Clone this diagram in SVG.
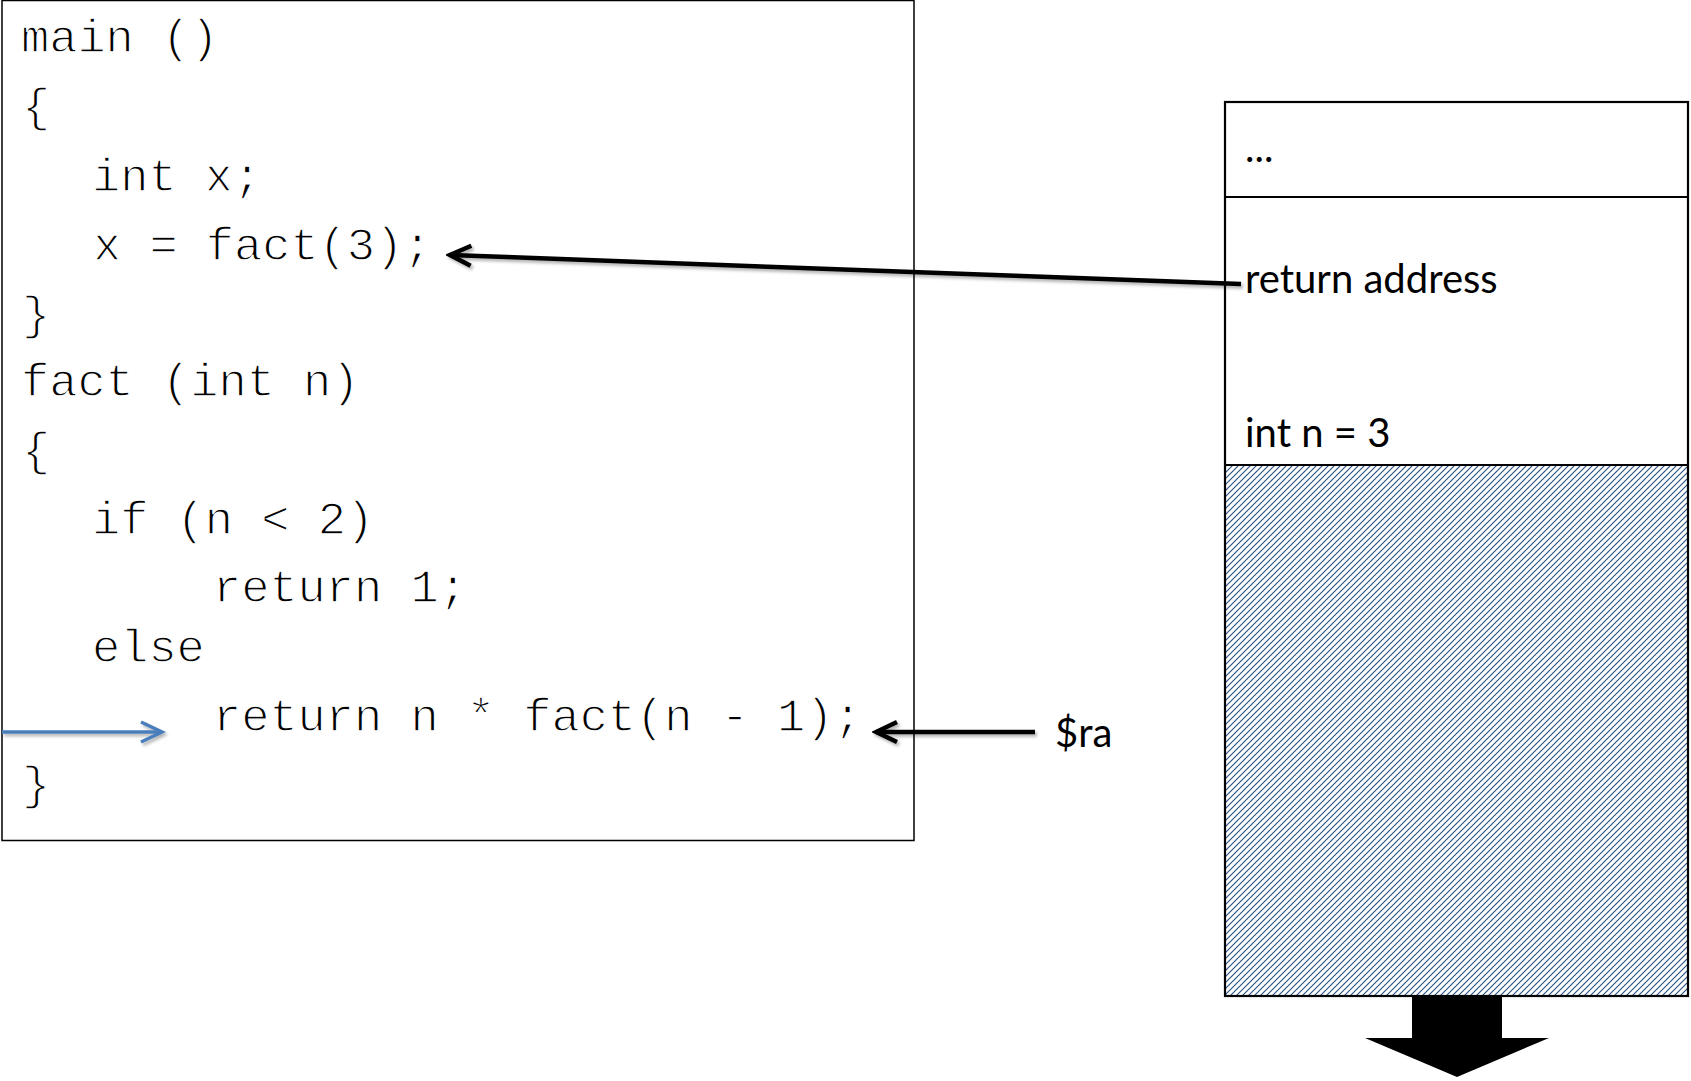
<svg xmlns="http://www.w3.org/2000/svg" width="1691" height="1081" viewBox="0 0 1691 1081">
<style>
.code{font-family:"Liberation Mono","Courier New",monospace;font-size:47px;fill:#000;stroke:#fff;stroke-width:1.3}
.lbl{font-family:Lato,"Open Sans",sans-serif;font-size:40px;fill:#000}
.box{fill:#fff;stroke:#000;stroke-width:1.5}
.stk{fill:none;stroke:#000;stroke-width:2.2}
.conn{fill:none;stroke:#000;stroke-width:4.5}
.blue{fill:none;stroke:#4A7EBB;stroke-width:3.5}
</style>
<defs>
<pattern id="hatch" patternUnits="userSpaceOnUse" width="6" height="6">
<rect width="6" height="6" fill="#fff"/>
<path d="M-1,7 L7,-1 M-4,4 L4,-4 M2,10 L10,2" stroke="#24507F" stroke-width="1.1"/>
</pattern>
<marker id="ah" markerUnits="userSpaceOnUse" markerWidth="30" markerHeight="30" viewBox="-26 -15 30 30" refX="0" refY="0" orient="auto">
<path d="M-21,-10 L0,0 L-21,10" fill="none" stroke="#000" stroke-width="4.5"/>
</marker>
<marker id="ahb" markerUnits="userSpaceOnUse" markerWidth="30" markerHeight="30" viewBox="-26 -15 30 30" refX="0" refY="0" orient="auto">
<path d="M-21,-10 L0,0 L-21,10" fill="none" stroke="#4A7EBB" stroke-width="3.5"/>
</marker>
<filter id="sh" filterUnits="userSpaceOnUse" x="0" y="0" width="1691" height="1081">
<feDropShadow dx="2" dy="2.5" stdDeviation="1.5" flood-color="#000" flood-opacity="0.3"/>
</filter>
</defs>

<g id="code-box">
<rect class="box" x="2" y="0.5" width="912" height="840"/>
<text class="code" x="21" y="52">main ()</text>
<text class="code" x="22" y="121">{</text>
<text class="code" x="92" y="191">int x;</text>
<text class="code" x="93" y="260">x = fact(3);</text>
<text class="code" x="22" y="329">}</text>
<text class="code" x="21" y="396">fact (int n)</text>
<text class="code" x="22" y="465">{</text>
<text class="code" x="92" y="534">if (n &lt; 2)</text>
<text class="code" x="213" y="602">return 1;</text>
<text class="code" x="92" y="662">else</text>
<text class="code" x="213" y="731">return n * fact(n - 1);</text>
<text class="code" x="22" y="799">}</text>
</g>

<g id="stack">
<rect x="1225" y="465" width="463" height="531" fill="url(#hatch)"/>
<rect class="stk" x="1225" y="102" width="463" height="894"/>
<line class="stk" x1="1225" y1="197" x2="1688" y2="197"/>
<line class="stk" x1="1225" y1="465" x2="1688" y2="465"/>
<text class="lbl" x="1245" y="162">...</text>
<text class="lbl" x="1245" y="293">return address</text>
<text class="lbl" x="1245" y="447">int n = 3</text>
</g>

<g id="grow-arrow">
<path d="M1412,997 L1502,997 L1502,1038 L1549,1038 L1457,1077 L1365,1038 L1412,1038 Z" fill="#000"/>
</g>

<g id="ra-label">
<text class="lbl" x="1055" y="747" font-size="42">$ra</text>
</g>

<g id="connectors" filter="url(#sh)">
<line class="conn" x1="1241" y1="284" x2="450" y2="255" marker-end="url(#ah)"/>
<line class="conn" x1="1035" y1="732" x2="876" y2="732" marker-end="url(#ah)"/>
<line class="blue" x1="2" y1="732" x2="162" y2="732" marker-end="url(#ahb)"/>
</g>
</svg>
